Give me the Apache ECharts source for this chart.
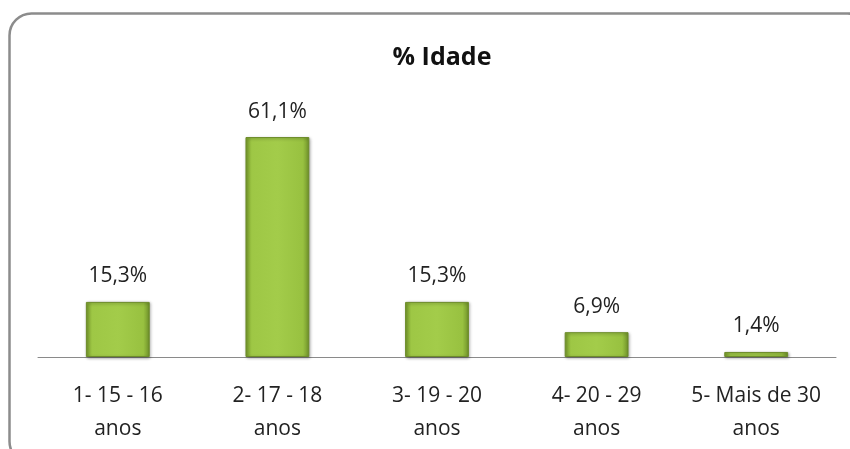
<!DOCTYPE html>
<html><head><meta charset="utf-8">
<script src="https://cdn.jsdelivr.net/npm/echarts@6/dist/echarts.min.js"></script>
<style>html,body{margin:0;padding:0;background:#fff}#c{width:850px;height:449px}</style>
</head><body><div id="c"></div>
<script>
const titleText = "% Idade";
const categories = ["1- 15 - 16\nanos", "2- 17 - 18\nanos", "3- 19 - 20\nanos", "4- 20 - 29\nanos", "5- Mais de 30\nanos"];
const values = [15.3, 61.1, 15.3, 6.9, 1.4];

const chart = echarts.init(document.getElementById('c'));
const font = "'Open Sans', 'Noto Sans', sans-serif";
chart.setOption({
  animation: false,
  backgroundColor: '#fff',
  title: { text: titleText, left: 437, top: 40, textAlign: 'center',
    textStyle: { fontFamily: font, fontWeight: 'bold', fontSize: 25, color: '#111' } },
  graphic: [{ type: 'rect', shape: { x: 9.5, y: 13.5, width: 860, height: 450, r: 22 },
    style: { fill: 'none', stroke: '#8c8c8c', lineWidth: 2.5 }, silent: true }],
  grid: { left: 38, right: 14, top: 105, bottom: 92 },
  xAxis: { type: 'category', data: categories,
    axisLine: { lineStyle: { color: '#8a8a8a', width: 1 } }, axisTick: { show: false },
    axisLabel: { interval: 0, fontFamily: font, fontSize: 21, color: '#222', lineHeight: 33, margin: 23 } },
  yAxis: { type: 'value', min: 0, max: 70, show: false, splitLine: { show: false } },
  series: [{ type: 'bar', data: values, barWidth: '40%',
    itemStyle: {
      color: new echarts.graphic.LinearGradient(0, 0, 1, 0, [
        { offset: 0, color: '#7b9f2d' }, { offset: 0.1, color: '#9ec745' },
        { offset: 0.5, color: '#a3cc4a' }, { offset: 0.9, color: '#98c140' }, { offset: 1, color: '#6f912a' }]),
      borderColor: '#6d8c2a', borderWidth: 1,
      shadowColor: 'rgba(0,0,0,0.35)', shadowBlur: 3, shadowOffsetX: 1, shadowOffsetY: 1 },
    label: { show: true, position: 'top', distance: 15, fontFamily: font, fontSize: 21, color: '#222',
      formatter: p => p.value.toFixed(1).replace('.', ',') + '%' } }]
});
</script></body></html>
